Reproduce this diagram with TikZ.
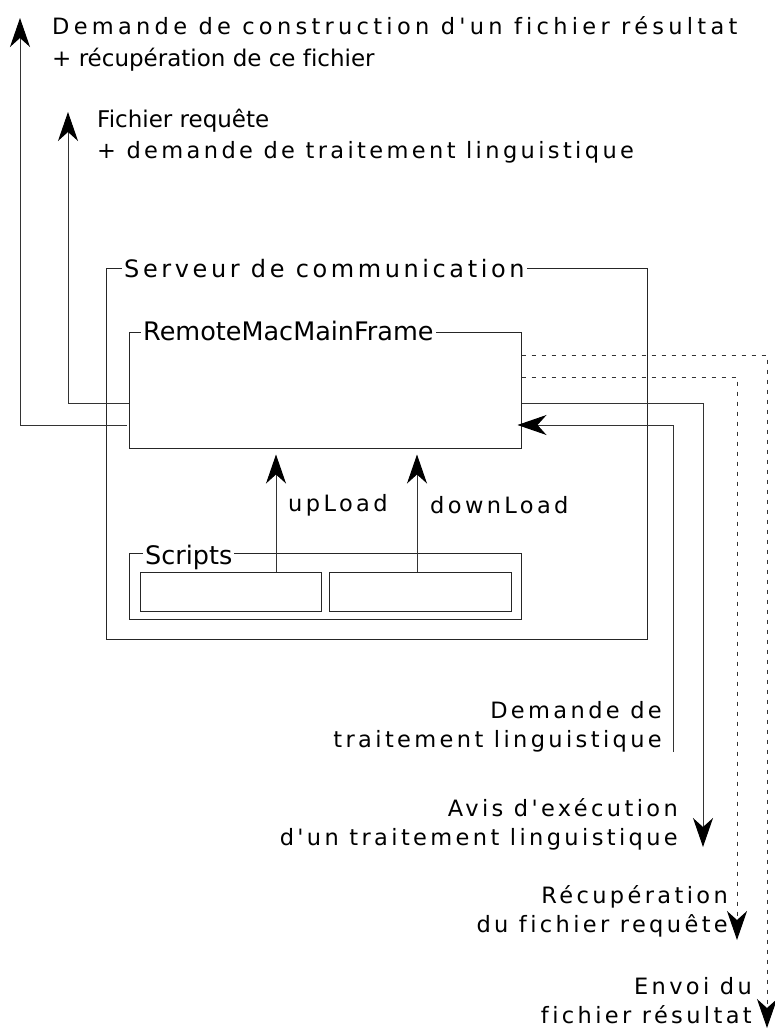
\documentclass[tikz,border=0pt]{standalone}
\usepackage{fontspec}
\setmainfont[Ligatures=NoCommon]{DejaVu Sans}
\newfontfamily\spacedfont[LetterSpace=15,Ligatures=NoCommon]{DejaVu Sans}
\usetikzlibrary{arrows.meta,positioning,calc}

\begin{document}
\begin{tikzpicture}[x=1pt,y=-1pt,
    box/.style={rectangle,draw=black!85,line width=1pt,inner sep=0pt},
    boxlbl/.style={fill=white,inner sep=2pt,anchor=base west,
                   font=\fontsize{25.5}{30}\selectfont},
    spacedlbl/.style={inner sep=0pt,font=\spacedfont\fontsize{22.5}{29}\selectfont},
    plainlbl/.style={inner sep=0pt,font=\fontsize{23}{28}\selectfont},
    link/.style={draw=black!80,line width=1pt},
    arr/.style={link,-{Stealth[length=29pt,width=20pt,inset=9pt,color=black]}},
    dashlink/.style={arr,dash pattern=on 4pt off 6pt}
  ]
  \useasboundingbox (0,0) rectangle (774,1030);
  % Boxes
  \node[box,minimum width=541pt,minimum height=371pt] (server)     at (376.5,453.5) {};
  \node[box,minimum width=392pt,minimum height=116pt] (frame)      at (325,390) {};
  \node[box,minimum width=392pt,minimum height=66pt]  (scripts)    at (325,586) {};
  \node[box,minimum width=181pt,minimum height=39pt]  (upscript)   at (230.5,591.5) {};
  \node[box,minimum width=182pt,minimum height=39pt]  (downscript) at (420,591.5) {};
  % Box titles
  \node[boxlbl,font=\spacedfont\fontsize{24}{29}\selectfont] (servertitle) at (122,277) {Serveur de communication};
  \node[boxlbl] (frametitle)   at (141,340) {RemoteMacMainFrame};
  \node[boxlbl] (scriptstitle) at (143,564) {Scripts};
  % upLoad / downLoad
  \coordinate (upfoot)   at ($(upscript.north)+(45.5,0)$);
  \coordinate (downfoot) at ($(downscript.north)+(-3,0)$);
  \draw[arr,shorten >=6pt] (upfoot)   -- (upfoot |- frame.south);
  \draw[arr,shorten >=6pt] (downfoot) -- (downfoot |- frame.south);
  \node[spacedlbl,anchor=west] (uplbl)   at (288,505) {upLoad};
  \node[spacedlbl,anchor=west] (downlbl) at (430,505) {downLoad};
  % Left connectors
  \coordinate (buildtip) at (20,18);
  \coordinate (reqtip)   at (68,112);
  \draw[arr] ($(frame.west)+(-2,35)$) -| (buildtip);
  \draw[arr] ($(frame.west)+(0,13)$)  -| (reqtip);
  \node[spacedlbl,anchor=base west] (buildtxt)  at (52,35)
    {\addfontfeature{LetterSpace=19}Demande de construction d'un fichier résultat};
  \node[plainlbl,anchor=base west]  (buildtxtb) at (52,67)  {+ récupération de ce fichier};
  \node[plainlbl,anchor=base west]  (reqtxt)    at (97,128) {Fichier requête};
  \node[spacedlbl,anchor=base west] (reqtxtb)   at (97,158) {+ demande de traitement linguistique};
  % Right connectors
  \coordinate (askfoot)   at (673,752);
  \coordinate (noticetip) at (703,847);
  \coordinate (fetchtip)  at (737,940);
  \coordinate (sendtip)   at (767,1028);
  \draw[arr,shorten >=-4pt] (askfoot) |- ($(frame.east)+(0,35)$);
  \draw[arr]      ($(frame.east)+(0,13)$)  -| (noticetip);
  \draw[dashlink] ($(frame.east)+(0,-13)$) -| (fetchtip);
  \draw[dashlink] ($(frame.east)+(0,-35)$) -| (sendtip);
  \node[spacedlbl,align=right,anchor=base east] (asktxt)    at (662,747)  {Demande de\\traitement linguistique};
  \node[spacedlbl,align=right,anchor=base east] (noticetxt) at (678,845)  {Avis d'exécution\\d'un traitement linguistique};
  \node[spacedlbl,align=right,anchor=base east] (fetchtxt)  at (728,932)  {Récupération\\du fichier requête};
  \node[spacedlbl,align=right,anchor=base east] (sendtxt)   at (752,1023) {Envoi du\\fichier résultat};
\end{tikzpicture}
\end{document}
